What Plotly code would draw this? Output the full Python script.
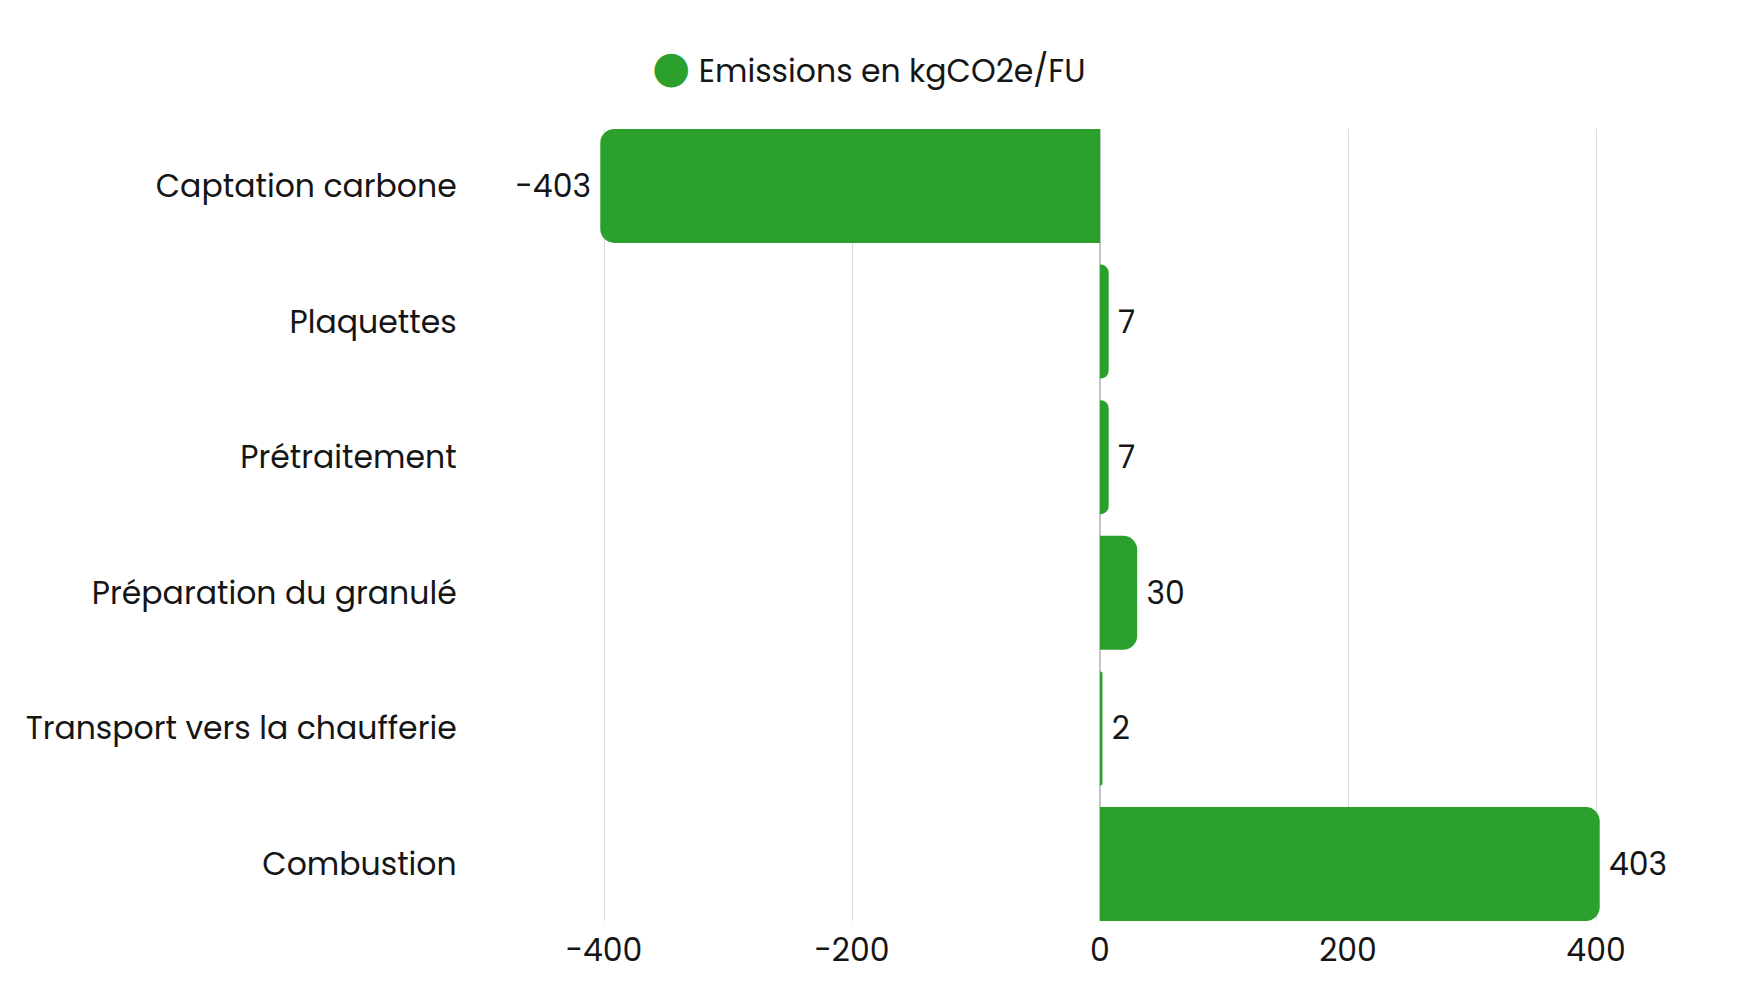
import plotly.graph_objects as go

categories = [
    "Captation carbone",
    "Plaquettes",
    "Prétraitement",
    "Préparation du granulé",
    "Transport vers la chaufferie",
    "Combustion",
]
emissions = [-403, 7, 7, 30, 2, 403]
series_name = "Emissions en kgCO2e/FU"
x_ticks = [-400, -200, 0, 200, 400]

GREEN = "#2ca02c"
FONT = "Poppins, 'DejaVu Sans', sans-serif"
TXT = "#151515"
FS = 31.5

labels = [(f"{v}\u2009" if v < 0 else f"\u2009{v}") for v in emissions]

fig = go.Figure()
fig.add_trace(go.Bar(
    x=emissions,
    y=categories,
    orientation="h",
    marker=dict(color=GREEN, line=dict(width=0)),
    text=labels,
    textposition="outside",
    outsidetextfont=dict(family=FONT, size=FS, color=TXT),
    cliponaxis=False,
    showlegend=False,
    hoverinfo="x+y",
))
# legend entry with a large green circle
fig.add_trace(go.Scatter(
    x=[None], y=[None], mode="markers",
    name=f'<span style="font-size:44px;color:{GREEN};font-family:DejaVu Sans">●</span> {series_name}',
    marker=dict(color="rgba(0,0,0,0)", size=1, opacity=0,
                line=dict(width=0, color="rgba(0,0,0,0)")),
    showlegend=True,
))

fig.update_layout(
    width=1760, height=990,
    paper_bgcolor="white", plot_bgcolor="white",
    font=dict(family=FONT, size=FS, color=TXT),
    margin=dict(l=480, r=40, t=129, b=69, autoexpand=False),
    bargap=0.16,
    barcornerradius=14,
    showlegend=True,
    legend=dict(
        orientation="h",
        xref="container", yref="container",
        x=(656 - 44) / 1760, xanchor="left",
        y=1 - 70 / 990, yanchor="middle",
        font=dict(family=FONT, size=FS, color=TXT),
        bgcolor="rgba(0,0,0,0)",
    ),
    xaxis=dict(
        range=[-500, 500],
        tickvals=x_ticks,
        ticktext=[str(v) for v in x_ticks],
        showgrid=True, gridcolor="#dcdcdc", gridwidth=1,
        zeroline=True, zerolinecolor="#c4c4c4", zerolinewidth=1.5,
        showline=False,
        ticks="outside", ticklen=1, tickcolor="rgba(0,0,0,0)",
        tickfont=dict(family=FONT, size=FS, color=TXT),
        fixedrange=True,
    ),
    yaxis=dict(
        type="category",
        categoryorder="array", categoryarray=categories,
        range=[5.42, -0.42],
        showgrid=False, zeroline=False, showline=False,
        ticks="outside", ticklen=16, tickcolor="rgba(0,0,0,0)",
        tickfont=dict(family=FONT, size=FS, color=TXT),
        fixedrange=True,
    ),
)

fig.write_html("out.html")
